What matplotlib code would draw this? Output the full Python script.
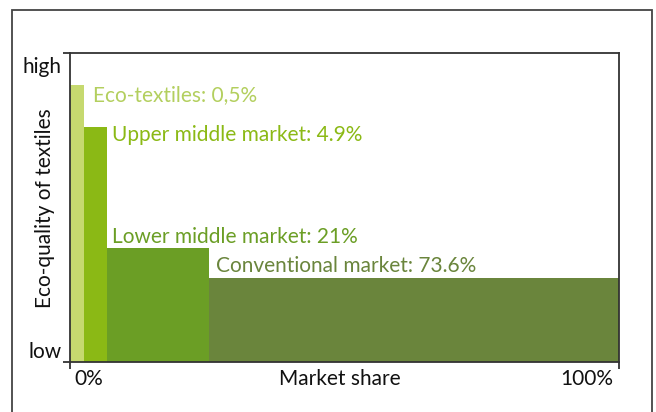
import matplotlib
matplotlib.use("Agg")
import matplotlib.pyplot as plt
from matplotlib.patches import Rectangle

plt.rcParams['font.family'] = ['Lato', 'DejaVu Sans']

categories = ["Eco-textiles", "Upper middle market", "Lower middle market", "Conventional market"]
share_labels = ["0,5%", "4.9%", "21%", "73.6%"]
drawn_widths = [2.5, 4.2, 18.6, 74.7]   # widths as drawn (% of axis)
quality = [0.896, 0.760, 0.369, 0.272]  # relative eco-quality (0=low, 1=high)
colors = ["#c6d96f", "#8bb915", "#6b9e25", "#6a853c"]
text_colors = ["#b3cf5e", "#8bb915", "#6b9e25", "#6a853c"]
label_anchor = ["right", "right", "left", "left"]
label_offset_px = [(9, -10), (5, -8), (5, 11), (7, 12)]

FS = 15
W, H = 656, 412
fig = plt.figure(figsize=(W / 100, H / 100), dpi=100)
ax = fig.add_axes([70 / W, 1 - 362 / H, (619 - 70) / W, (362 - 53) / H])

lefts = []
acc = 0
for w in drawn_widths:
    lefts.append(acc)
    acc += w

ax.bar(lefts, quality, width=drawn_widths, align='edge', color=colors, edgecolor='none')

for l, w, q, cat, sl, tc, anc, (dx, dy) in zip(lefts, drawn_widths, quality, categories,
                                                 share_labels, text_colors, label_anchor, label_offset_px):
    x0 = l + w if anc == "right" else l
    ax.annotate(f"{cat}: {sl}", xy=(x0, q), xytext=(dx * 0.72, dy * 0.72),
                textcoords='offset points', ha='left', va='center',
                fontsize=FS, color=tc)

ax.set_xlim(0, 100)
ax.set_ylim(0, 1)
ax.set_xticks([0, 100])
ax.set_yticks([0, 1])
ax.set_xticklabels([])
ax.set_yticklabels([])
ax.tick_params(length=5, width=1.3, color='#333333')
for s in ax.spines.values():
    s.set_color('#333333')
    s.set_linewidth(1.3)

# axis texts
fig.text(62 / W, 1 - 67 / H, "high", ha='right', va='center', fontsize=FS, color='#111111')
fig.text(62 / W, 1 - 352 / H, "low", ha='right', va='center', fontsize=FS, color='#111111')
fig.text(89 / W, 1 - 379 / H, "0%", ha='center', va='center', fontsize=FS, color='#111111')
fig.text(587 / W, 1 - 379 / H, "100%", ha='center', va='center', fontsize=FS, color='#111111')
fig.text(340 / W, 1 - 379 / H, "Market share", ha='center', va='center', fontsize=FS, color='#111111')
fig.text(45 / W, 1 - 208 / H, "Eco-quality of textiles", ha='center', va='center',
         rotation=90, fontsize=FS, color='#111111')

# outer frame
fig.patches.append(Rectangle((12 / W, -0.05), (652 - 12) / W, 1.05 - 10 / H,
                             transform=fig.transFigure, fill=False,
                             edgecolor='#444444', linewidth=1.3, clip_on=False))

fig.savefig("out.png", dpi=100)
